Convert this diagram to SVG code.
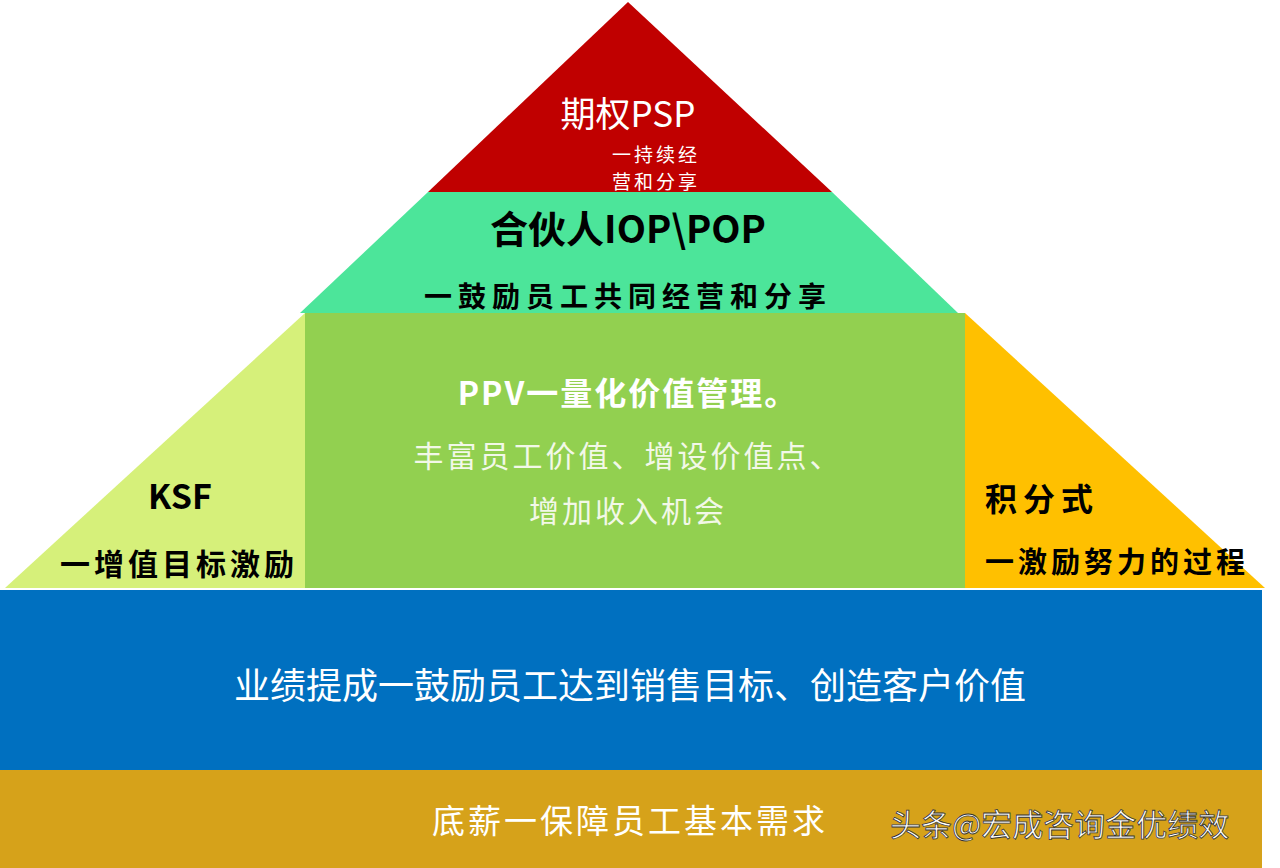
<svg xmlns="http://www.w3.org/2000/svg" width="1280" height="868" viewBox="0 0 1280 868">
<style>
text{font-family:"Noto Sans CJK SC","Liberation Sans",sans-serif;}
.w{fill:#fff}.b{fill:#000}.bold{font-weight:bold}
</style>
<rect width="1280" height="868" fill="#fff"/>
<g id="psp">
<polygon points="628,2 832,192 428,192" fill="#C00000"/>
<text x="628" y="127" class="w" font-size="35" text-anchor="middle">期权PSP</text>
<text x="612" y="162" class="w" font-size="19" letter-spacing="3">一持续经</text>
<text x="612" y="189" class="w" font-size="19" letter-spacing="3">营和分享</text>
</g>
<g id="iop">
<polygon points="428,192 832,192 958,313 300,313" fill="#4CE59A"/>
<text x="628" y="243" class="b bold" font-size="38" text-anchor="middle">合伙人IOP\POP</text>
<text x="628" y="307" class="b bold" font-size="28" letter-spacing="6" text-anchor="middle">一鼓励员工共同经营和分享</text>
</g>
<g id="ksf">
<polygon points="305,313 305,588 5,588" fill="#D6F07A"/>
<text x="180" y="509" class="b bold" font-size="34" text-anchor="middle">KSF</text>
<text x="60" y="575" class="b bold" font-size="30" letter-spacing="4">一增值目标激励</text>
</g>
<g id="ppv">
<rect x="305" y="313" width="660" height="275" fill="#92D050"/>
<text x="628" y="405" class="w bold" font-size="32" letter-spacing="2" text-anchor="middle">PPV一量化价值管理。</text>
<text x="628" y="467" fill="#F2F8E8" font-size="30" letter-spacing="3" text-anchor="middle">丰富员工价值、增设价值点、</text>
<text x="628" y="522" fill="#F2F8E8" font-size="30" letter-spacing="3" text-anchor="middle">增加收入机会</text>
</g>
<g id="jf">
<polygon points="965,313 965,588 1265,588" fill="#FFC000"/>
<text x="985" y="511" class="b bold" font-size="32" letter-spacing="6">积分式</text>
<text x="985" y="573" class="b bold" font-size="29" letter-spacing="4">一激励努力的过程</text>
</g>
<g id="yj">
<rect x="0" y="590" width="1262" height="180" fill="#0070C0"/>
<text x="630" y="699" class="w" font-size="36" text-anchor="middle">业绩提成一鼓励员工达到销售目标、创造客户价值</text>
</g>
<g id="dx">
<rect x="0" y="770" width="1262" height="98" fill="#D6A21A"/>
<text x="630" y="833" class="w" font-size="33" letter-spacing="3" text-anchor="middle">底薪一保障员工基本需求</text>
<text x="890" y="836" class="w" font-size="31" stroke="#333" stroke-width="0.8">头条@宏成咨询金优绩效</text>
</g>
<g id="connectors"/>
</svg>
